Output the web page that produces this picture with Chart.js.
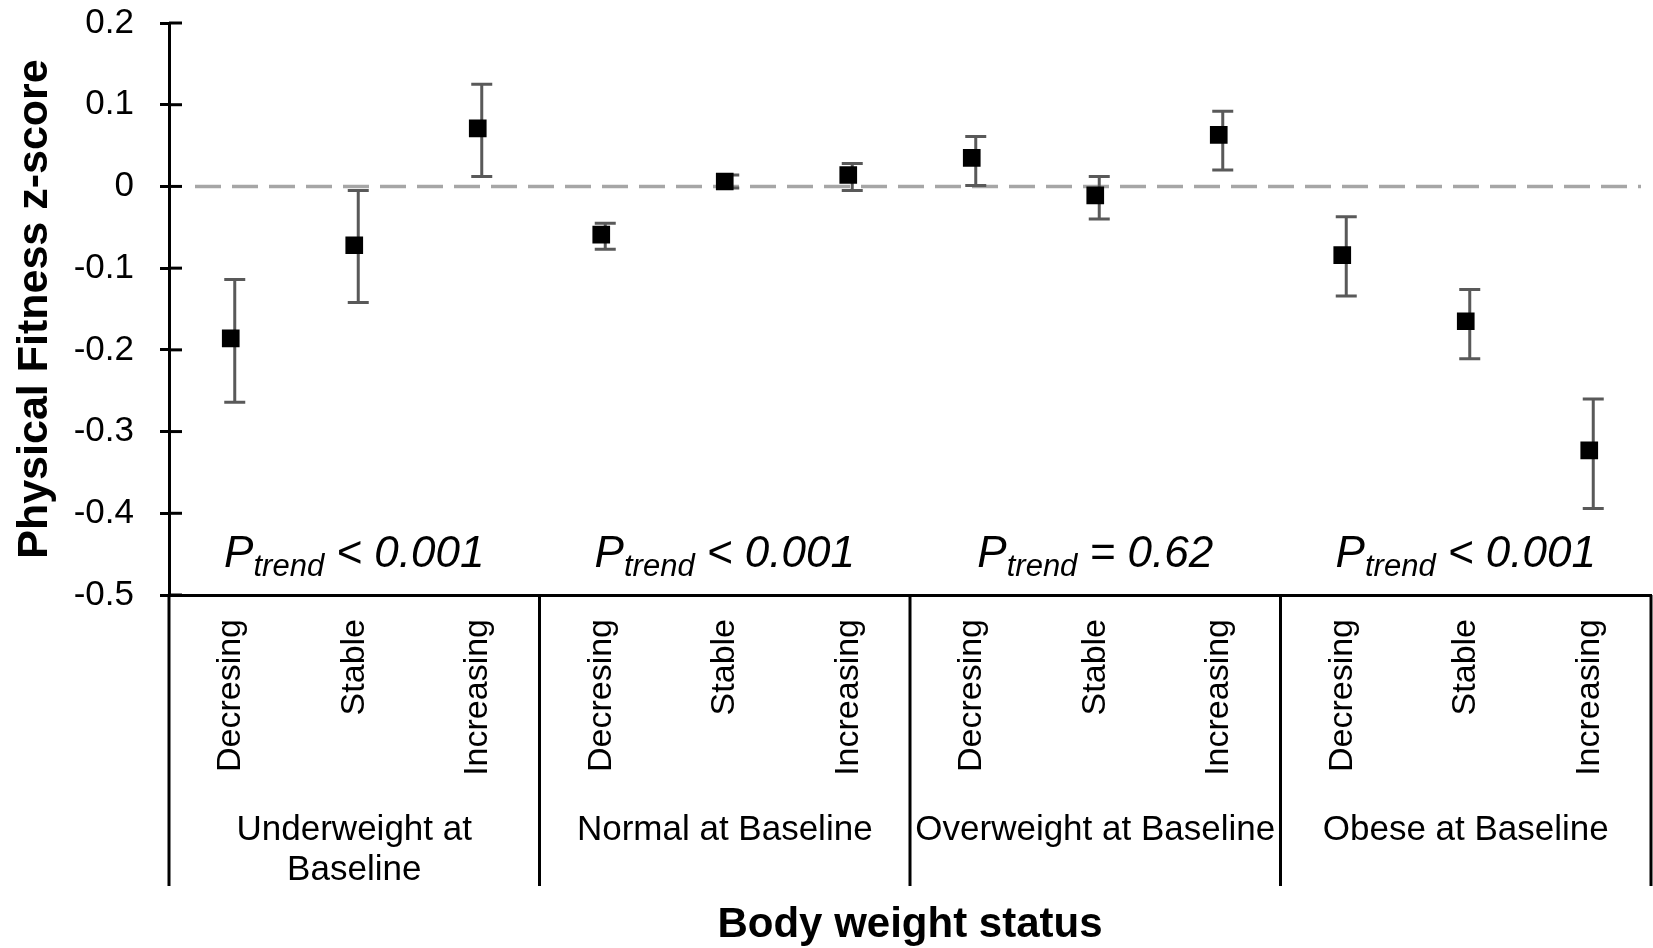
<!DOCTYPE html>
<html>
<head>
<meta charset="utf-8">
<script src="https://cdn.jsdelivr.net/npm/chart.js@4"></script>
<style>
  html, body { margin: 0; padding: 0; background: #fff; }
  #wrap { width: 1653px; height: 948px; }
</style>
</head>
<body>
<div id="wrap"><canvas id="fitnessChart" width="1653" height="948"></canvas></div>
<script>
const groups = [["Underweight at", "Baseline"], ["Normal at Baseline"], ["Overweight at Baseline"], ["Obese at Baseline"]];
const trends = ["Decresing", "Stable", "Increasing"];
const pTrendSign = ["<", "<", "=", "<"];
const pTrendValue = ["0.001", "0.001", "0.62", "0.001"];
const zMeans = [-0.186, -0.072, 0.071, -0.059, 0.006, 0.014, 0.035, -0.011, 0.063, -0.084, -0.165, -0.323];
const zLower = [-0.264, -0.142, 0.012, -0.077, -0.002, -0.005, 0.001, -0.040, 0.020, -0.134, -0.211, -0.394];
const zUpper = [-0.114, -0.005, 0.125, -0.045, 0.014, 0.028, 0.061, 0.012, 0.092, -0.037, -0.126, -0.260];
const yTicks = [0.2, 0.1, 0, -0.1, -0.2, -0.3, -0.4, -0.5];
const yTickLabels = ["0.2", "0.1", "0", "-0.1", "-0.2", "-0.3", "-0.4", "-0.5"];

const FONT = '"Liberation Sans", Arial, sans-serif';
const labels = groups.flatMap(() => trends);

function drawTrendLabel(ctx, cx, baseline, sign, value) {
    const main = "italic 44px " + FONT;
    const sub = "italic 31px " + FONT;
    const tail = " " + sign + " " + value;
    ctx.font = main;
    const wP = ctx.measureText("P").width;
    const wTail = ctx.measureText(tail).width;
    ctx.font = sub;
    const wSub = ctx.measureText("trend").width;
    let x = cx - (wP + wSub + wTail) / 2;
    ctx.textAlign = "left";
    ctx.textBaseline = "alphabetic";
    ctx.fillStyle = "#000";
    ctx.font = main;
    ctx.fillText("P", x, baseline);
    x += wP;
    ctx.font = sub;
    ctx.fillText("trend", x, baseline + 9);
    x += wSub;
    ctx.font = main;
    ctx.fillText(tail, x, baseline);
}

const extras = {
    id: "extras",
    beforeDatasetsDraw(chart) {
        const { ctx, chartArea, scales: { x, y } } = chart;
        // dashed reference line at zero
        ctx.save();
        ctx.strokeStyle = "#a6a6a6";
        ctx.lineWidth = 3.5;
        ctx.setLineDash([26, 11]);
        const y0 = y.getPixelForValue(0);
        ctx.beginPath();
        ctx.moveTo(chartArea.left + 26, y0);
        ctx.lineTo(chartArea.right - 10, y0);
        ctx.stroke();
        ctx.restore();

        // error bars
        ctx.save();
        ctx.strokeStyle = "#595959";
        ctx.lineWidth = 3;
        zMeans.forEach((m, i) => {
            const px = x.getPixelForValue(i) + 4;
            const top = y.getPixelForValue(zUpper[i]);
            const bot = y.getPixelForValue(zLower[i]);
            ctx.beginPath();
            ctx.moveTo(px, top);
            ctx.lineTo(px, bot);
            ctx.moveTo(px - 10.5, top);
            ctx.lineTo(px + 10.5, top);
            ctx.moveTo(px - 10.5, bot);
            ctx.lineTo(px + 10.5, bot);
            ctx.stroke();
        });
        ctx.restore();
    },
    afterDraw(chart) {
        const { ctx, chartArea, scales: { x, y } } = chart;
        ctx.save();
        // inner half of the y tick marks
        ctx.strokeStyle = "#000";
        ctx.lineWidth = 3;
        yTicks.forEach(v => {
            const py = y.getPixelForValue(v);
            ctx.beginPath();
            ctx.moveTo(chartArea.left, py);
            ctx.lineTo(chartArea.left + 13, py);
            ctx.stroke();
        });
        // group dividers below the axis
        for (let g = 0; g <= groups.length; g++) {
            const px = x.getPixelForValue(g * trends.length - 0.5);
            ctx.beginPath();
            ctx.moveTo(px, chartArea.bottom);
            ctx.lineTo(px, chartArea.bottom + 291);
            ctx.stroke();
        }
        // group names and trend p-values
        groups.forEach((lines, g) => {
            const cx = x.getPixelForValue(g * trends.length + 1);
            ctx.fillStyle = "#000";
            ctx.font = "35px " + FONT;
            ctx.textAlign = "center";
            ctx.textBaseline = "alphabetic";
            lines.forEach((t, k) => ctx.fillText(t, cx, chartArea.bottom + 245 + k * 40));
            drawTrendLabel(ctx, cx, chartArea.bottom - 28, pTrendSign[g], pTrendValue[g]);
        });
        ctx.restore();
    }
};

new Chart(document.getElementById("fitnessChart").getContext("2d"), {
    type: "line",
    data: {
        labels: labels,
        datasets: [{
            data: zMeans,
            showLine: false,
            pointStyle: "rect",
            pointRadius: 12.5,
            pointBorderWidth: 0,
            pointBackgroundColor: "#000",
            pointBorderColor: "#000"
        }]
    },
    options: {
        responsive: false,
        animation: false,
        layout: { autoPadding: false, padding: { top: 23, right: 2, left: 0, bottom: 0 } },
        plugins: { legend: { display: false }, tooltip: { enabled: false } },
        scales: {
            x: {
                type: "category",
                offset: true,
                grid: { display: false, drawTicks: false },
                border: { display: true, color: "#000", width: 3 },
                ticks: {
                    color: "#000",
                    font: { family: FONT, size: 34 },
                    minRotation: 90,
                    maxRotation: 90,
                    autoSkip: false,
                    padding: 24
                },
                title: {
                    display: true,
                    text: "Body weight status",
                    color: "#000",
                    font: { family: FONT, size: 42, weight: "bold", lineHeight: 1 },
                    padding: { top: 0, bottom: 2 }
                },
                afterFit: s => { s.height = 353; s.paddingLeft = 0; s.paddingRight = 0; }
            },
            y: {
                min: -0.5,
                max: 0.2,
                afterBuildTicks: s => { s.ticks = yTicks.map(v => ({ value: v })); },
                grid: { display: true, drawOnChartArea: false, drawTicks: true, tickLength: 9, color: "#000", lineWidth: 3 },
                border: { display: true, color: "#000", width: 3 },
                ticks: {
                    color: "#000",
                    font: { family: FONT, size: 35 },
                    padding: 26,
                    autoSkip: false,
                    callback: v => yTickLabels[yTicks.findIndex(t => Math.abs(t - v) < 1e-9)]
                },
                title: {
                    display: true,
                    text: "Physical Fitness z-score",
                    color: "#000",
                    font: { family: FONT, size: 43, weight: "bold" },
                    padding: { top: 9, bottom: 0 }
                },
                afterFit: s => { s.width = 169; s.paddingTop = 0; s.paddingBottom = 0; }
            }
        }
    },
    plugins: [extras]
});
</script>
</body>
</html>
